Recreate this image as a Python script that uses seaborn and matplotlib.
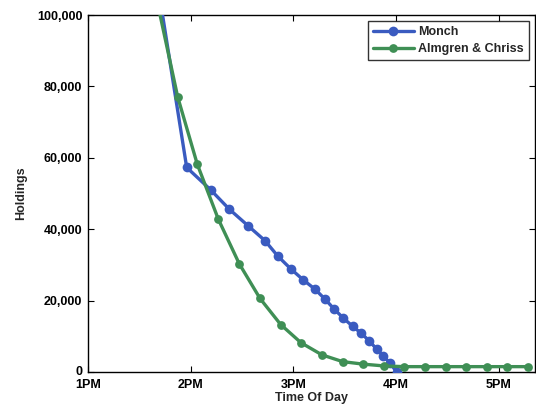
import matplotlib
matplotlib.use("Agg")
import matplotlib.pyplot as plt
import seaborn as sns
import pandas as pd
from matplotlib.ticker import FuncFormatter
from matplotlib.transforms import ScaledTranslation

# Data (time in decimal hours of day, holdings in shares)
monch_time = [13.70, 13.961, 14.195, 14.376, 14.561, 14.723, 14.847, 14.974, 15.096,
              15.210, 15.308, 15.398, 15.486, 15.577, 15.658, 15.739, 15.811, 15.875,
              15.941, 16.006]
monch_hold = [104700, 57300, 51000, 45600, 40900, 36800, 32500, 28900, 25800,
              23200, 20400, 17600, 15100, 12800, 10900, 8700, 6400, 4500,
              2500, 0]

ac_time = [13.672, 13.873, 14.064, 14.269, 14.473, 14.675, 14.876, 15.074, 15.278,
           15.480, 15.681, 15.882, 16.080, 16.281, 16.483, 16.684, 16.882, 17.083,
           17.287]
ac_hold = [104000, 77100, 58200, 42800, 30300, 20600, 13300, 8200, 4800,
           2900, 2200, 1700, 1500, 1500, 1500, 1500, 1500, 1500,
           1500]

x_ticks = [13, 14, 15, 16, 17]
x_tick_labels = ["1PM", "2PM", "3PM", "4PM", "5PM"]
y_ticks = [0, 20000, 40000, 60000, 80000, 100000]

sns.set_theme(style="white")
plt.rcParams['font.family'] = ['Liberation Sans', 'DejaVu Sans']
plt.rcParams['font.weight'] = 'bold'

FS = 9

fig = plt.figure(figsize=(5.36, 4.11), dpi=100)
ax = fig.add_axes([88/536, 39/411, 447/536, 357/411])

blue = "#3a5bc0"
green = "#3f8f55"

df_m = pd.DataFrame({"t": monch_time, "h": monch_hold})
df_a = pd.DataFrame({"t": ac_time, "h": ac_hold})

sns.lineplot(data=df_m, x="t", y="h", ax=ax, color=blue, linewidth=2.4,
             marker="o", markersize=7, markeredgewidth=0, sort=False,
             label="Monch", zorder=3)
sns.lineplot(data=df_a, x="t", y="h", ax=ax, color=green, linewidth=2.4,
             marker="o", markersize=6.3, markeredgewidth=0, sort=False,
             label="Almgren & Chriss", zorder=4)

ax.set_xlim(13, 13 + 447/102.7)
ax.set_ylim(0, 100000)
ax.set_xticks(x_ticks)
ax.set_xticklabels(x_tick_labels)
ax.set_yticks(y_ticks)
ax.yaxis.set_major_formatter(FuncFormatter(lambda v, p: f"{int(v):,}"))

ax.tick_params(axis="both", which="major", direction="in", length=4, width=0.8,
               top=True, right=True, bottom=True, left=True, labelsize=FS,
               colors="black")
ax.tick_params(axis="x", pad=5)
ax.tick_params(axis="y", pad=4)
for s in ax.spines.values():
    s.set_visible(True)
    s.set_color("black")
    s.set_linewidth(1.0)

ax.set_xlabel("Time Of Day", fontsize=FS, fontweight="bold", labelpad=1)
ax.set_ylabel("Holdings", fontsize=FS, fontweight="bold", labelpad=7)

leg = ax.legend(loc="upper right", fontsize=FS, frameon=True, fancybox=False,
                edgecolor="black", borderpad=0.4, handlelength=3.3,
                labelspacing=0.4, handletextpad=0.35, borderaxespad=0.5)
leg.get_frame().set_linewidth(1.0)

ax.grid(False)

# nudge the "0" y tick label up slightly so it clears "1PM"
fig.canvas.draw()
lbl0 = ax.get_yticklabels()[0]
lbl0.set_transform(lbl0.get_transform() + ScaledTranslation(0, 2/100, fig.dpi_scale_trans))

fig.savefig("out.png", dpi=100, facecolor="white")
